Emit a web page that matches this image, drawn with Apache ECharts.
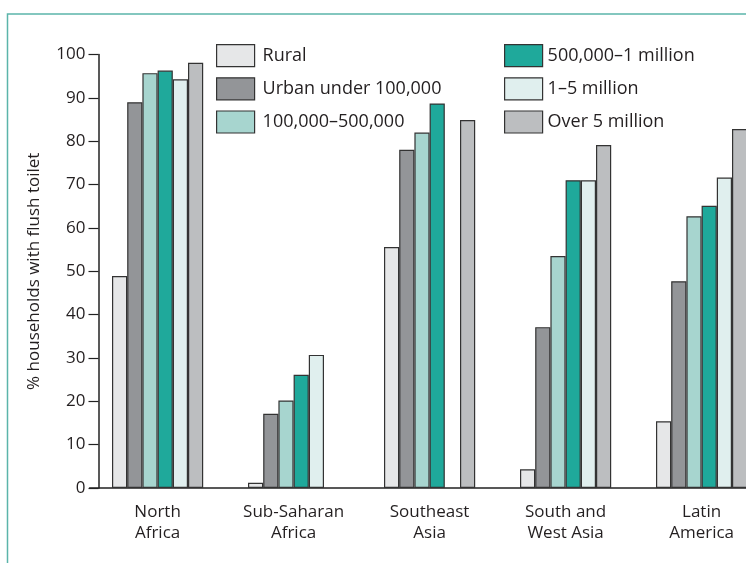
<!DOCTYPE html>
<html>
<head>
<meta charset="utf-8">
<script src="https://cdn.jsdelivr.net/npm/echarts@6/dist/echarts.min.js"></script>
<style>
html,body{margin:0;padding:0;background:#fff;overflow:hidden;width:746px;height:563px;}
#chart{width:800px;height:563px;}
</style>
</head>
<body>
<div id="chart"></div>
<script>
// Data
const categories = ['North\nAfrica', 'Sub-Saharan\nAfrica', 'Southeast\nAsia', 'South and\nWest Asia', 'Latin\nAmerica'];
const seriesNames = ['Rural', 'Urban under 100,000', '100,000–500,000', '500,000–1 million', '1–5 million', 'Over 5 million'];
const rural    = [48.9, 1.2, 55.6, 4.3, 15.4];
const urbanSmall = [89.0, 17.1, 78.0, 37.1, 47.7];
const city100k = [95.7, 20.2, 82.0, 53.5, 62.7];
const city500k = [96.3, 26.1, 88.7, 71.0, 65.1];
const city1to5m = [94.3, 30.7, null, 71.0, 71.6];
const over5m   = [98.1, null, 84.9, 79.1, 82.8];
const yTicks = [0, 10, 20, 30, 40, 50, 60, 70, 80, 90, 100];

const values = [rural, urbanSmall, city100k, city500k, city1to5m, over5m];
const colors = ['#e6e7e8', '#939598', '#a7d5cf', '#1fa99b', '#e0efee', '#bcbec0'];
const font = '"Open Sans", Lato, sans-serif';
const textColor = '#231f20';

const chart = echarts.init(document.getElementById('chart'));
chart.setOption({
  animation: false,
  backgroundColor: '#fff',
  graphic: [{
    type: 'rect',
    shape: { x: 7.5, y: 14, width: 820, height: 600 },
    style: { fill: 'none', stroke: '#5bb5aa', lineWidth: 1.5 },
    silent: true
  }],
  grid: { left: 89.6, top: 54.5, width: 680, height: 433.5 },
  legend: [{
    orient: 'vertical', left: 211, top: 39,
    icon: 'rect',
    itemWidth: 38, itemHeight: 22, itemGap: 10,
    data: seriesNames.slice(0, 3),
    textStyle: { fontFamily: font, fontSize: 18, lineHeight: 22, color: textColor, padding: [0, 0, 0, 3] },
    itemStyle: { borderColor: '#333', borderWidth: 1.2 }
  }, {
    orient: 'vertical', left: 499, top: 39,
    icon: 'rect',
    itemWidth: 38, itemHeight: 22, itemGap: 10,
    data: seriesNames.slice(3, 6),
    textStyle: { fontFamily: font, fontSize: 18, lineHeight: 22, color: textColor, padding: [0, 0, 0, 0] },
    itemStyle: { borderColor: '#333', borderWidth: 1.2 }
  }],
  xAxis: {
    type: 'category',
    data: categories,
    axisTick: { show: false },
    axisLine: { lineStyle: { color: '#222', width: 1.5 } },
    axisLabel: { fontFamily: font, fontSize: 17, color: textColor, lineHeight: 21, margin: 14, interval: 0 }
  },
  yAxis: {
    type: 'value',
    min: 0, max: 100, interval: 10,
    offset: -8.9,
    name: '% households with flush toilet',
    nameLocation: 'middle',
    nameGap: 56,
    nameTextStyle: { fontFamily: font, fontSize: 17, color: textColor },
    splitLine: { show: false },
    axisLine: { show: true, lineStyle: { color: '#222', width: 1.5 } },
    axisTick: { show: true, length: 10, lineStyle: { color: '#222', width: 1.2 } },
    axisLabel: {
      fontFamily: font, fontSize: 17, color: textColor, margin: 13,
      formatter: v => yTicks.includes(v) ? String(v) : ''
    }
  },
  series: values.map((d, i) => ({
    name: seriesNames[i],
    type: 'bar',
    data: d,
    barWidth: 15.2,
    barGap: '0%',
    itemStyle: { color: colors[i], borderColor: '#333', borderWidth: 1.2 }
  }))
});
</script>
</body>
</html>
